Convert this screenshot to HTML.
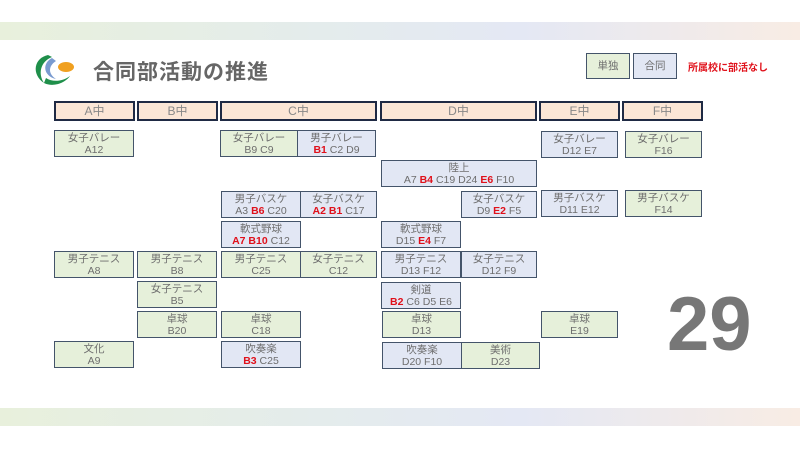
<!DOCTYPE html>
<html><head><meta charset="utf-8"><style>
body{margin:0;width:800px;height:450px;position:relative;background:#fff;overflow:hidden;font-family:"Liberation Sans","Noto Sans CJK JP",sans-serif}
.band{position:absolute;left:0;width:800px;height:18px;background:linear-gradient(90deg,#e8f0dc 0%,#e4ecec 40%,#e4e8f4 65%,#f8ece4 100%)}
.h{position:absolute;top:101px;height:16px;border:2px solid #1f2a44;background:#fbe6d6;color:#888;font-size:12px;text-align:center;line-height:16px;box-sizing:content-box}
.b{position:absolute;height:25px;border:1.5px solid #44546a;color:#6e6e6e;font-size:10.5px;font-weight:normal;text-align:center;line-height:11.5px;padding-top:2px;box-sizing:border-box}
.g{background:#e6f0da}.u{background:#e2e7f4}
.r{color:#e0101a;font-weight:bold}
</style></head><body>
<div class="band" style="top:22px"></div>
<div class="band" style="top:408px"></div>
<svg style="position:absolute;left:30px;top:52px" width="50" height="36" viewBox="0 0 50 36">
<path d="M18 3 C4 6 1 22 14 31 C8 22 10 10 22 5 Z" fill="#1f8f4a"/>
<path d="M22 6 C12 11 13 24 26 27 C18 22 18 14 26 9 Z" fill="#7a9bd0"/>
<path d="M14 31 C24 36 36 30 40 24 C32 30 22 30 16 26 Z" fill="#1f8f4a"/>
<ellipse cx="36" cy="15" rx="8" ry="5" fill="#f0a020"/>
</svg>
<div style="position:absolute;left:93px;top:56px;font-size:21px;font-weight:bold;color:#666;letter-spacing:1px">合同部活動の推進</div>
<div class="b g" style="left:586px;top:53px;width:44px;height:26px;line-height:20px">単独</div>
<div class="b u" style="left:633px;top:53px;width:44px;height:26px;line-height:20px">合同</div>
<div style="position:absolute;left:688px;top:59px;font-size:10px;color:#e0101a;font-weight:bold">所属校に部活なし</div>
<div class="h" style="left:54px;width:77px">A中</div>
<div class="h" style="left:137px;width:77px">B中</div>
<div class="h" style="left:220px;width:153px">C中</div>
<div class="h" style="left:380px;width:153px">D中</div>
<div class="h" style="left:539px;width:77px">E中</div>
<div class="h" style="left:622px;width:77px">F中</div>

<div class="b g" style="left:54px;top:130px;width:80px;height:27px">女子バレー<br>A12</div>
<div class="b g" style="left:220px;top:130px;width:78px;height:27px">女子バレー<br>B9 C9</div>
<div class="b u" style="left:297px;top:130px;width:79px;height:27px">男子バレー<br><span class="r">B1</span> C2 D9</div>
<div class="b u" style="left:541px;top:131px;width:77px;height:27px">女子バレー<br>D12 E7</div>
<div class="b g" style="left:625px;top:131px;width:77px;height:27px">女子バレー<br>F16</div>

<div class="b u" style="left:381px;top:160px;width:156px;height:27px">陸上<br>A7 <span class="r">B4</span> C19 D24 <span class="r">E6</span> F10</div>

<div class="b u" style="left:221px;top:191px;width:80px;height:27px">男子バスケ<br>A3 <span class="r">B6</span> C20</div>
<div class="b u" style="left:300px;top:191px;width:77px;height:27px">女子バスケ<br><span class="r">A2 B1</span> C17</div>
<div class="b u" style="left:461px;top:191px;width:76px;height:27px">女子バスケ<br>D9 <span class="r">E2</span> F5</div>
<div class="b u" style="left:541px;top:190px;width:77px;height:27px">男子バスケ<br>D11 E12</div>
<div class="b g" style="left:625px;top:190px;width:77px;height:27px">男子バスケ<br>F14</div>

<div class="b u" style="left:221px;top:221px;width:80px;height:27px">軟式野球<br><span class="r">A7 B10</span> C12</div>
<div class="b u" style="left:381px;top:221px;width:80px;height:27px">軟式野球<br>D15 <span class="r">E4</span> F7</div>

<div class="b g" style="left:54px;top:251px;width:80px;height:27px">男子テニス<br>A8</div>
<div class="b g" style="left:137px;top:251px;width:80px;height:27px">男子テニス<br>B8</div>
<div class="b g" style="left:221px;top:251px;width:80px;height:27px">男子テニス<br>C25</div>
<div class="b g" style="left:300px;top:251px;width:77px;height:27px">女子テニス<br>C12</div>
<div class="b u" style="left:381px;top:251px;width:80px;height:27px">男子テニス<br>D13 F12</div>
<div class="b u" style="left:461px;top:251px;width:76px;height:27px">女子テニス<br>D12 F9</div>

<div class="b g" style="left:137px;top:281px;width:80px;height:27px">女子テニス<br>B5</div>
<div class="b u" style="left:381px;top:282px;width:80px;height:27px">剣道<br><span class="r">B2</span> C6 D5 E6</div>

<div class="b g" style="left:137px;top:311px;width:80px;height:27px">卓球<br>B20</div>
<div class="b g" style="left:221px;top:311px;width:80px;height:27px">卓球<br>C18</div>
<div class="b g" style="left:382px;top:311px;width:79px;height:27px">卓球<br>D13</div>
<div class="b g" style="left:541px;top:311px;width:77px;height:27px">卓球<br>E19</div>

<div class="b g" style="left:54px;top:341px;width:80px;height:27px">文化<br>A9</div>
<div class="b u" style="left:221px;top:341px;width:80px;height:27px">吹奏楽<br><span class="r">B3</span> C25</div>
<div class="b u" style="left:382px;top:342px;width:80px;height:27px">吹奏楽<br>D20 F10</div>
<div class="b g" style="left:461px;top:342px;width:79px;height:27px">美術<br>D23</div>

<div style="position:absolute;left:667px;top:282px;font-size:76px;font-weight:bold;color:#777;line-height:86px">29</div>
</body></html>
